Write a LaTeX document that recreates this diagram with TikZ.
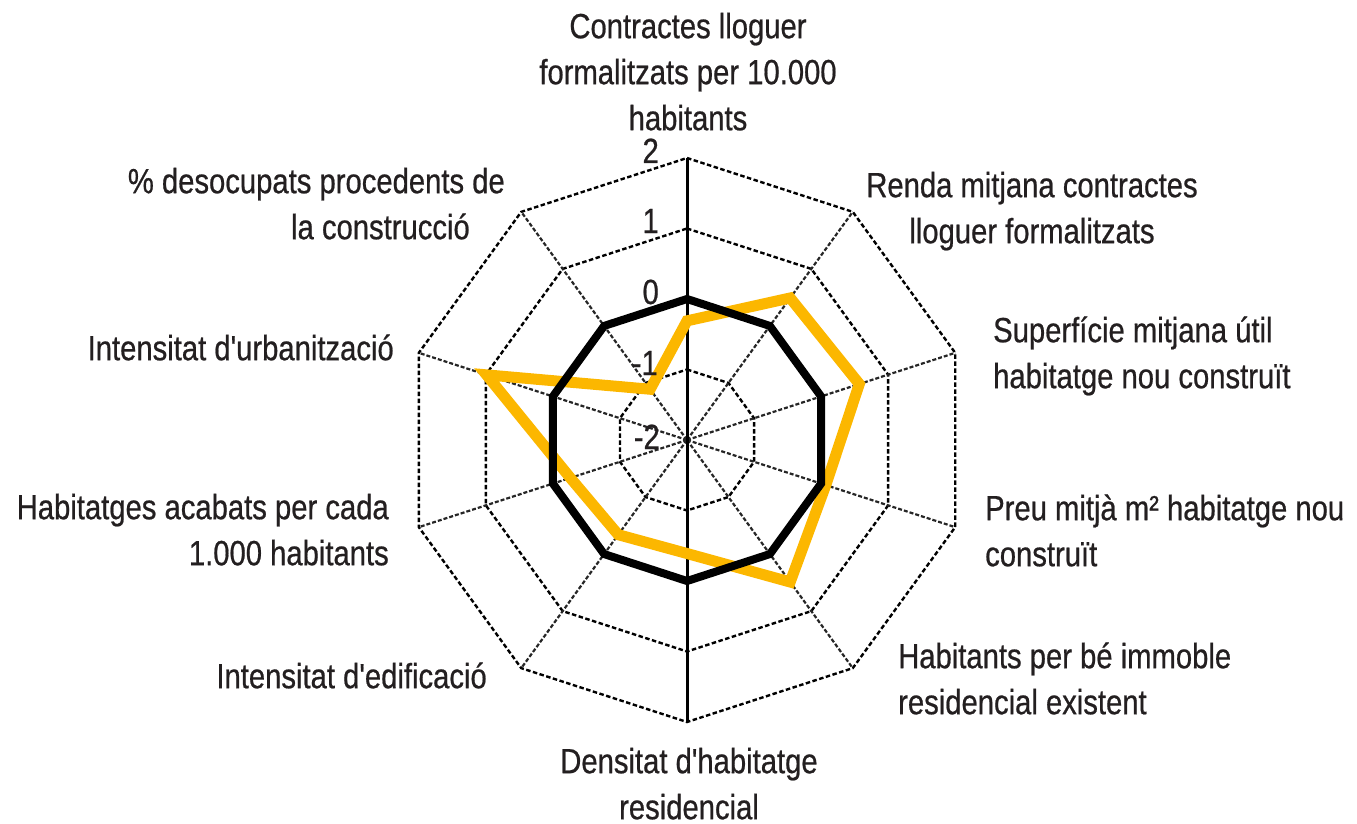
\documentclass[tikz,border=0pt]{standalone}
\usepackage{fontspec}
\setmainfont[FakeStretch=0.835, FakeBold=0.6, Ligatures=TeXOff]{Liberation Sans}
\begin{document}
\begin{tikzpicture}[x=1pt,y=-1pt,
  txt/.style={inner sep=0pt, text=labelcol, font=\fontsize{35}{46}\selectfont},
  ring/.style={draw=black, line width=2.4pt, dash pattern=on 4.5pt off 2.5pt},
  spoke/.style={draw=black!85, line width=2.2pt, dash pattern=on 4pt off 2pt},
  mainaxis/.style={draw=black, line width=3pt},
  zeroline/.style={draw=black, line width=8pt, line join=miter},
  seriesline/.style={draw=serieorange, line width=11pt, line join=miter}]
\definecolor{labelcol}{RGB}{35,31,32}
\definecolor{serieorange}{RGB}{252,183,0}
\useasboundingbox (0,0) rectangle (1357,824);
\def\cx{687}\def\cy{440}\def\ru{70.5}
% rings
\foreach \v in {-1,0,1,2}{
  \draw[ring] (\cx,{\cy-\ru*(\v+2)}) \foreach \k in {1,...,9}{ -- ({\cx+\ru*(\v+2)*cos(90-36*\k)},{\cy-\ru*(\v+2)*sin(90-36*\k)}) } -- cycle;
}
% spokes
\foreach \k in {1,2,3,4,6,7,8,9}{
  \coordinate (s\k) at ({\cx+\ru*4*cos(90-36*\k)},{\cy-\ru*4*sin(90-36*\k)});
}
\coordinate (c) at (\cx,\cy);
\coordinate (s0) at (\cx,{\cy-4*\ru});
\coordinate (s5) at (\cx,{\cy+4*\ru});
\foreach \k in {1,2,3,4,6,7,8,9}{ \draw[spoke] (c) -- (s\k); }
\draw[mainaxis] (s0) -- (s5);
% series
\def\vals{{-0.31,0.49,0.57,0.07,0.49,-0.39,-0.34,-0.26,0.99,-1.11}}
\draw[seriesline] (\cx,{\cy-\ru*(2-0.31)}) \foreach \k in {1,...,9}{
  -- ({\cx+\ru*(\vals[\k]+2)*cos(90-36*\k)},{\cy-\ru*(\vals[\k]+2)*sin(90-36*\k)}) } -- cycle;
\draw[zeroline] (\cx,{\cy-\ru*2}) \foreach \k in {1,...,9}{
  -- ({\cx+\ru*2*cos(90-36*\k)},{\cy-\ru*2*sin(90-36*\k)}) } -- cycle;
% tick labels
\node[txt, anchor=base east] (t2) at (659,163) {2};
\node[txt, anchor=base east] (t1) at (659,233) {1};
\node[txt, anchor=base east] (t0) at (659,304) {0};
\node[txt, anchor=base east] (tm1) at (658,375) {-1};
\node[txt, anchor=base east] (tm2) at (660,449) {-2};
% axis labels
\node[txt, anchor=north, align=center] (l0) at (688,8) {\rule{0pt}{30pt}Contractes lloguer\\formalitzats per 10.000\\habitants};
\node[txt, anchor=north, align=center] (l1) at (1032,167) {\rule{0pt}{30pt}Renda mitjana contractes\\lloguer formalitzats};
\node[txt, anchor=north west, align=left] (l2) at (993,312) {\rule{0pt}{30pt}Superfície mitjana útil\\habitatge nou construït};
\node[txt, anchor=north west, align=left] (l3) at (985,490) {\rule{0pt}{30pt}Preu mitjà m² habitatge nou\\construït};
\node[txt, anchor=north west, align=left] (l4) at (898,638) {\rule{0pt}{30pt}Habitants per bé immoble\\residencial existent};
\node[txt, anchor=north, align=center] (l5) at (689,743) {\rule{0pt}{30pt}Densitat d'habitatge\\residencial};
\node[txt, anchor=north east, align=right] (l6) at (487,658) {\rule{0pt}{30pt}Intensitat d'edificació};
\node[txt, anchor=north east, align=right] (l7) at (389,489) {\rule{0pt}{30pt}Habitatges acabats per cada\\1.000 habitants};
\node[txt, anchor=north east, align=right] (l8) at (394,330) {\rule{0pt}{30pt}Intensitat d'urbanització};
\node[txt, anchor=north east, align=right] (l9) at (505,163) {\rule{0pt}{30pt}\% desocupats procedents de\\la construcció\hspace*{35pt}};
\end{tikzpicture}
\end{document}
